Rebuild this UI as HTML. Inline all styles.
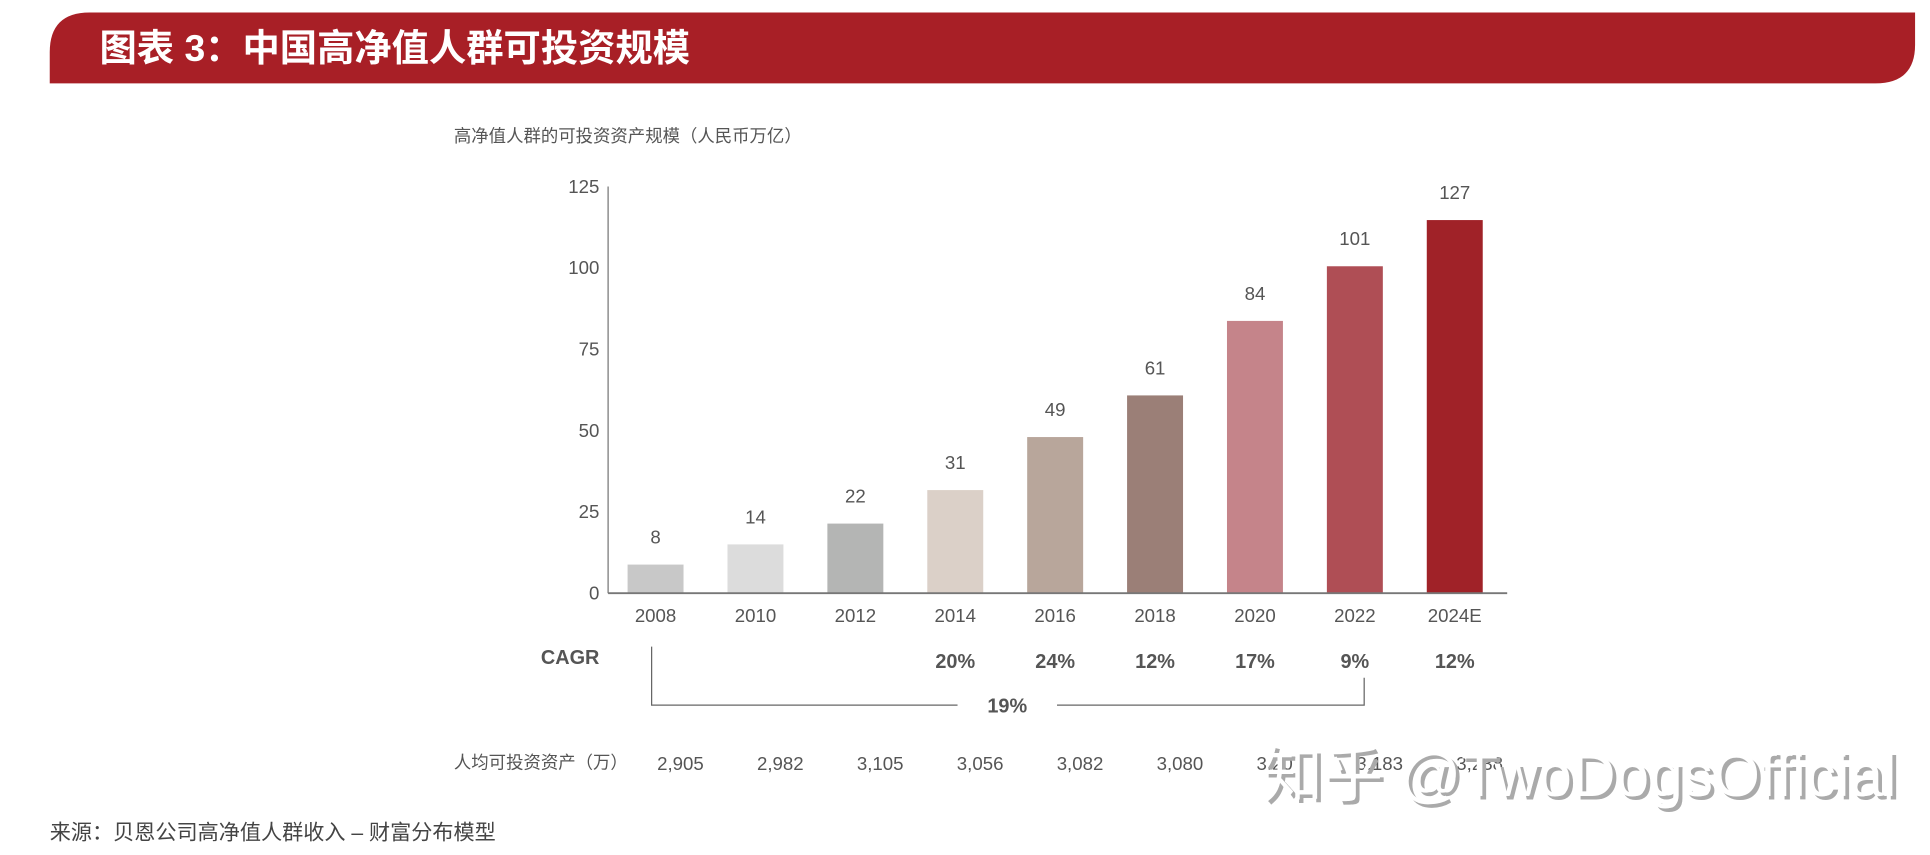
<!DOCTYPE html>
<html><head><meta charset="utf-8"><style>
html,body{margin:0;padding:0;background:#fff;}
svg{display:block;font-family:"Liberation Sans","Noto Sans CJK SC",sans-serif;}
</style></head><body>
<svg id="chart" width="1930" height="855" viewBox="0 0 1552 687.5" xmlns="http://www.w3.org/2000/svg">
<path d="M72,10 L1540,10 L1540,36 Q1540,67 1508,67 L40,67 L40,42 Q40,10 72,10 Z" fill="#a81f26"/>
<text x="80" y="49" font-size="30" font-weight="bold" fill="#fff">图表 3：中国高净值人群可投资规模</text>
<text x="365" y="114" font-size="14" fill="#555">高净值人群的可投资资产规模（人民币万亿）</text>
<g id="yaxis"></g>
<g id="bars"></g>
<g id="xaxis"></g>
<text x="482" y="534" font-size="16" font-weight="bold" fill="#555" text-anchor="end">CAGR</text>
<g id="cagr"></g>
<path d="M524,520 V567 H770 M850,567 H1097 V545" fill="none" stroke="#666" stroke-width="1"/>
<text x="810" y="573" font-size="16" font-weight="bold" fill="#555" text-anchor="middle">19%</text>
<text x="365" y="618" font-size="14" fill="#555">人均可投资资产（万）</text>
<g id="percap"></g>
<text x="1018" y="643" font-size="49" fill="#aaa" textLength="510" lengthAdjust="spacingAndGlyphs">知乎 @TwoDogsOfficial</text>
<text x="1015" y="640" font-size="49" fill="#fff" textLength="510" lengthAdjust="spacingAndGlyphs">知乎 @TwoDogsOfficial</text>
<text x="40" y="675" font-size="17" fill="#444">来源：贝恩公司高净值人群收入 – 财富分布模型</text>
</svg>
<script>
const categories = ["2008","2010","2012","2014","2016","2018","2020","2022","2024E"];
const values = [8.8, 15, 21.4, 31.7, 48, 60.8, 83.7, 100.5, 114.7];
const valueLabels = ["8","14","22","31","49","61","84","101","127"];
const cagrLabels = ["","","","20%","24%","12%","17%","9%","12%"];
const perCapita = ["2,905","2,982","3,105","3,056","3,082","3,080","3,207","3,183","3,238"];
const yTicks = [0,25,50,75,100,125];
const colors = ["#c8c8c8","#dcdcdc","#b4b5b4","#dbd0c8","#b8a69b","#9b7f77","#c5848a","#af4e55","#a02228"];
const NS="http://www.w3.org/2000/svg";
const x0=489,x1=1212,yb=477,yt=150,ymax=125;
const y = v => yb - v/ymax*(yb-yt);
const step=(x1-x0)/categories.length;
const xc = i => x0 + step*(i+0.5) - 2;
function mk(tag,attrs,parent,txt){const e=document.createElementNS(NS,tag);for(const k in attrs)e.setAttribute(k,attrs[k]);if(txt!==undefined)e.textContent=txt;document.getElementById(parent).appendChild(e);return e;}
let ax=mk('line',{x1:x0,y1:yt,x2:x0,y2:yb,stroke:'#777','stroke-width':1},'yaxis');


yTicks.forEach(t=>{const e=mk('text',{x:482,y:y(t)+5,'font-size':15,fill:'#555','text-anchor':'end'},'yaxis',String(t));

});
categories.forEach((c,i)=>{
const r=mk('rect',{x:xc(i)-22.5,y:y(values[i]),width:45,height:yb-y(values[i]),fill:colors[i]},'bars');


const l=mk('text',{x:xc(i),y:y(values[i])-17,'font-size':15,fill:'#555','text-anchor':'middle'},'bars',valueLabels[i]);


const xl=mk('text',{x:xc(i),y:500,'font-size':15,fill:'#555','text-anchor':'middle'},'xaxis',c);


if(cagrLabels[i]){const g=mk('text',{x:xc(i),y:537,'font-size':16,'font-weight':'bold',fill:'#555','text-anchor':'middle'},'cagr',cagrLabels[i]);

}
const p=mk('text',{x:xc(i)+20,y:619,'font-size':15,fill:'#555','text-anchor':'middle'},'percap',perCapita[i]);


});
const bl=mk('line',{x1:x0,y1:yb,x2:x1,y2:yb,stroke:'#777','stroke-width':1.5},'xaxis');


</script>
</body></html>
